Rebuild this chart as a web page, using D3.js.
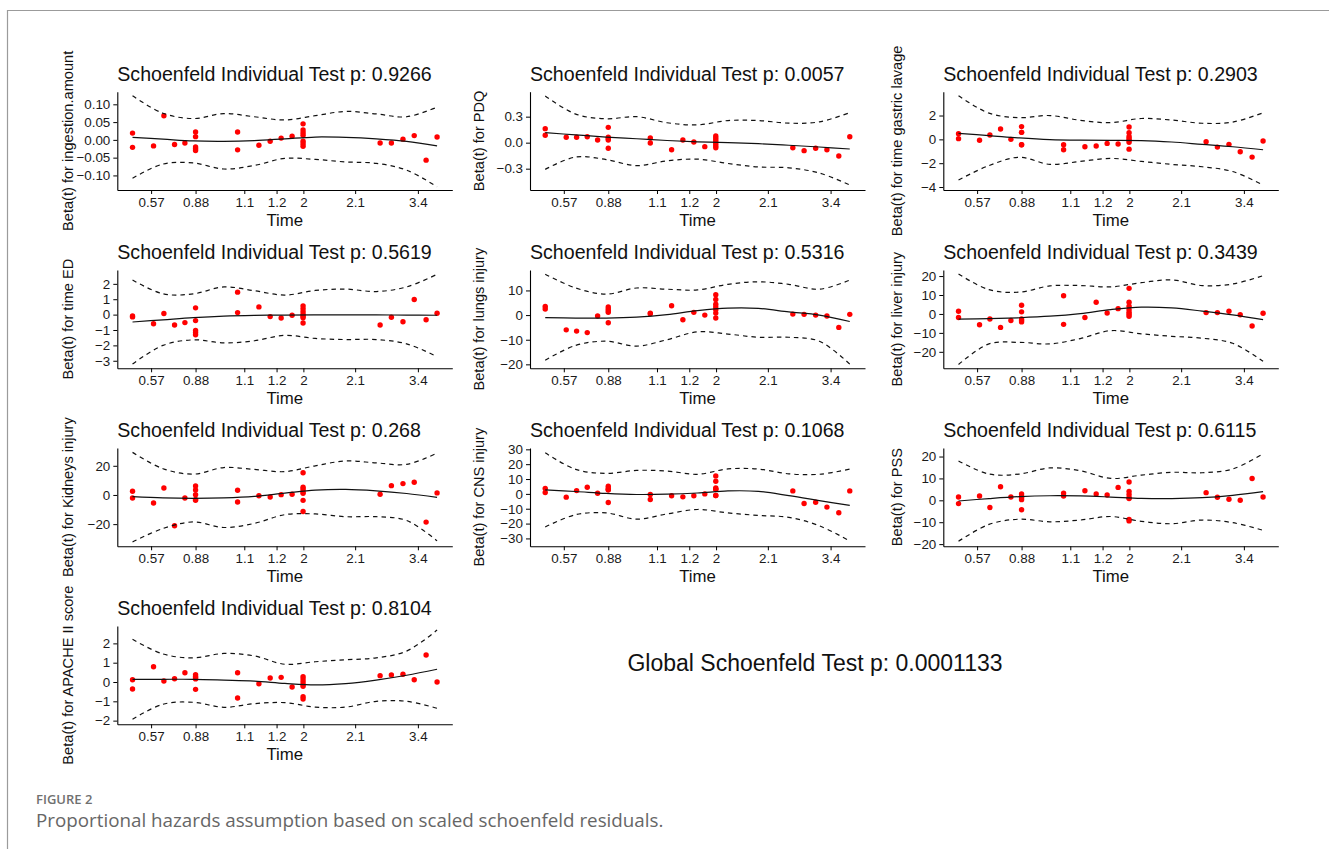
<!DOCTYPE html>
<html><head><meta charset="utf-8">
<script src="https://cdn.jsdelivr.net/npm/d3@7"></script>
<style>
html,body{margin:0;padding:0;background:#fff;}
svg{display:block;}
</style></head>
<body>
<script>
// ---------- DATA ----------
// transformed event time (KM scale, 0..1) of each of the 30 events
const eventTime = [0,0,0.069,0.103,0.138,0.172,0.207,0.207,0.207,0.207,0.207,0.345,0.345,0.415,0.452,0.488,0.524,0.560,0.560,0.560,0.560,0.560,0.560,0.560,0.813,0.850,0.888,0.925,0.964,1.0];
const xTickPos = [0.061,0.207,0.367,0.473,0.561,0.731,0.937];
const xTickLabels = ["0.57","0.88","1.1","1.2","2","2.1","3.4"];
const gridTime = [0,0.1,0.2,0.3,0.4,0.5,0.6,0.7,0.8,0.9,1.0];

const variables = ["ingestion.amount","PDQ","time gastric lavage","time ED","lungs injury","liver injury","Kidneys injury","CNS injury","PSS","APACHE II score"];
const pValues = ["0.9266","0.0057","0.2903","0.5619","0.5316","0.3439","0.268","0.1068","0.6115","0.8104"];
const globalP = "0.0001133";

const yTicks = [
  [-0.10,-0.05,0,0.05,0.10],
  [-0.3,0,0.3],
  [-4,-2,0,2],
  [-3,-2,-1,0,1,2],
  [-20,-10,0,10],
  [-20,-10,0,10,20],
  [-20,0,20],
  [-30,-20,-10,0,10,20,30],
  [-20,-10,0,10,20],
  [-2,-1,0,1,2]
];
const yTickDecimals = [2,1,0,0,0,0,0,0,0,0];
const yDomains = [
  [-0.141,0.1355],[-0.546,0.588],[-4.25,4.0],[-3.49,2.9],[-21.6,18.3],
  [-28.7,23.2],[-35.2,32.2],[-35.3,30.9],[-21,23.9],[-2.19,2.9]
];

// scaled Schoenfeld residuals, one per event, per variable
const resIngestion = [0.019,-0.021,-0.017,0.068,-0.013,-0.009,0.022,0.009,-0.020,-0.025,-0.030,0.022,-0.028,-0.015,-0.004,0.005,0.010,0.045,0.028,0.020,0.013,-0.004,-0.011,-0.018,-0.009,-0.009,0.002,0.012,-0.057,0.008];
const resPDQ = [0.162,0.085,0.062,0.062,0.069,0.031,0.177,0.062,0.046,0.031,-0.065,0.054,-0.004,-0.081,0.031,0.008,-0.046,0.077,0.054,0.031,0.008,-0.015,-0.038,-0.058,-0.058,-0.092,-0.065,-0.081,-0.154,0.069];
const resGastric = [0.48,0.06,-0.08,0.37,0.87,0.0,1.07,0.59,0.59,-0.45,-0.45,-0.45,-0.87,-0.62,-0.56,-0.34,-0.39,1.04,0.56,0.25,0.08,-0.08,-0.25,-0.82,-0.2,-0.65,-0.42,-1.04,-1.49,-0.14];
const resED = [-0.09,-0.15,-0.59,0.07,-0.68,-0.52,0.44,-0.39,-1.03,-1.16,-1.31,1.46,0.13,0.5,-0.13,-0.22,-0.04,0.57,0.39,0.2,0.02,-0.1,-0.2,-0.55,-0.68,-0.17,-0.46,0.98,-0.33,0.09];
const resLungs = [3.5,2.5,-6.0,-6.5,-7.1,-0.4,3.3,2.5,1.8,1.1,-3.1,0.8,0.5,3.8,-1.9,1.1,0.0,8.3,6.3,4.4,3.3,2.2,0.8,-1.2,0.4,0.3,0.0,-0.4,-5.0,0.3];
const resLiver = [1.4,-1.9,-5.7,-2.7,-7.1,-3.5,4.6,1.1,-2.7,-3.5,-4.2,9.6,-5.5,-1.9,6.2,0.5,2.8,13.5,6.2,4.1,2.3,0.9,-0.2,-1.2,0.7,0.7,1.4,-0.4,-6.4,0.4];
const resKidneys = [2.5,-2.1,-5.5,4.8,-21.1,-2.1,6.2,3.4,0.2,-3.0,-3.7,3.2,-4.8,-0.5,-1.4,0.2,0.5,15.2,5.3,3.9,2.1,1.1,-3.7,-11.3,0.5,6.4,7.8,8.7,-18.6,1.4];
const resCNS = [3.6,0.9,-2.2,2.2,4.5,0.4,5.1,3.8,2.7,2.7,-5.8,-0.4,-3.8,-1.3,-2.0,-1.3,0.0,12.1,8.5,4.0,3.1,3.1,-1.1,-1.1,2.0,-6.5,-5.6,-8.9,-12.7,2.0];
const resPSS = [1.5,-1.5,2.0,-3.3,6.2,1.5,2.9,1.8,1.2,0.3,-4.3,3.3,2.0,4.4,2.9,2.4,5.9,8.4,4.1,2.7,1.2,0.8,-8.7,-9.4,3.5,1.4,0.5,0.0,10.0,1.5];
const resAPACHE = [0.12,-0.36,0.79,0.05,0.17,0.48,0.38,0.28,0.22,0.16,-0.38,0.48,-0.83,-0.09,0.21,0.24,-0.26,0.28,0.16,0.02,-0.12,-0.22,-0.76,-0.88,0.33,0.36,0.40,0.12,1.40,0.0];

// smoothed beta(t) fit and its confidence bounds at gridTime
const fitIngestion = [0.007,0.002,-0.003,-0.004,-0.002,0.003,0.008,0.007,0.003,-0.004,-0.017];
const upIngestion = [0.124,0.075,0.060,0.074,0.065,0.056,0.068,0.080,0.073,0.065,0.092];
const loIngestion = [-0.108,-0.068,-0.065,-0.082,-0.072,-0.052,-0.055,-0.062,-0.066,-0.085,-0.132];
const fitPDQ = [0.115,0.09,0.065,0.045,0.025,0.01,0.0,-0.012,-0.03,-0.05,-0.073];
const upPDQ = [0.538,0.33,0.275,0.30,0.23,0.205,0.255,0.255,0.225,0.24,0.346];
const loPDQ = [-0.308,-0.165,-0.195,-0.265,-0.21,-0.19,-0.24,-0.28,-0.29,-0.35,-0.488];
const fitGastric = [0.50,0.32,0.12,-0.02,-0.07,-0.08,-0.10,-0.22,-0.42,-0.62,-0.87];
const upGastric = [3.66,2.2,1.82,2.0,1.6,1.4,1.75,1.62,1.35,1.45,2.23];
const loGastric = [-3.41,-2.2,-1.5,-2.1,-1.85,-1.6,-1.85,-2.1,-2.3,-2.7,-3.83];
const fitED = [-0.48,-0.34,-0.2,-0.1,-0.05,-0.03,-0.02,-0.02,-0.02,-0.03,-0.04];
const upED = [2.25,1.35,1.35,1.8,1.55,1.27,1.57,1.66,1.5,1.8,2.62];
const loED = [-3.21,-2.0,-1.64,-1.84,-1.7,-1.35,-1.55,-1.62,-1.62,-1.9,-2.73];
const fitLungs = [-1.0,-1.2,-1.2,-0.8,0.2,1.8,2.8,2.7,1.3,0.0,-2.6];
const upLungs = [16.6,11.0,8.5,11.0,10.5,10.2,12.5,13.5,12.5,10.5,14.2];
const loLungs = [-18.3,-12.3,-10.6,-12.6,-10.0,-6.8,-7.7,-9.0,-9.0,-10.6,-19.9];
const fitLiver = [-2.7,-2.5,-2.0,-1.2,0.2,2.3,3.6,3.2,1.5,-0.5,-3.0];
const upLiver = [21.1,12.8,11.5,14.8,15.0,14.3,16.5,18.0,15.0,15.8,20.2];
const loLiver = [-26.7,-15.8,-15.0,-15.8,-13.0,-8.8,-10.5,-11.8,-12.8,-15.5,-25.0];
const fitKidneys = [-1.1,-2.0,-2.3,-2.0,-1.0,1.2,3.3,3.8,2.8,1.0,-1.6];
const upKidneys = [29.2,18.0,14.3,18.8,17.5,16.0,20.0,23.3,22.0,21.0,28.7];
const loKidneys = [-32.2,-23.0,-18.5,-22.3,-19.5,-13.5,-13.0,-14.9,-14.9,-17.5,-31.5];
const fitCNS = [2.7,1.6,0.3,-0.4,-0.2,0.6,2.0,1.7,-1.2,-4.5,-7.8];
const upCNS = [27.7,16.5,13.8,15.8,15.4,13.2,16.8,16.7,13.5,13.2,16.7];
const loCNS = [-22.3,-14.0,-12.8,-17.0,-13.5,-10.5,-12.8,-14.5,-15.8,-21.5,-31.7];
const fitPSS = [-0.3,0.8,1.7,2.1,2.0,1.5,0.9,0.8,1.2,2.3,4.0];
const upPSS = [18.0,12.0,12.0,14.8,13.5,10.0,11.5,12.8,12.6,14.3,21.3];
const loPSS = [-18.7,-11.0,-8.6,-9.8,-9.0,-7.4,-9.6,-10.7,-9.0,-10.2,-13.7];
const fitAPACHE = [0.14,0.14,0.14,0.1,0.05,-0.07,-0.15,-0.08,0.1,0.35,0.66];
const upAPACHE = [2.21,1.45,1.25,1.48,1.35,0.92,1.05,1.15,1.25,1.6,2.69];
const loAPACHE = [-1.93,-1.15,-1.05,-1.31,-1.12,-1.07,-1.3,-1.3,-1.0,-1.0,-1.36];

const residuals = [resIngestion,resPDQ,resGastric,resED,resLungs,resLiver,resKidneys,resCNS,resPSS,resAPACHE];
const fits = [fitIngestion,fitPDQ,fitGastric,fitED,fitLungs,fitLiver,fitKidneys,fitCNS,fitPSS,fitAPACHE];
const uppers = [upIngestion,upPDQ,upGastric,upED,upLungs,upLiver,upKidneys,upCNS,upPSS,upAPACHE];
const lowers = [loIngestion,loPDQ,loGastric,loED,loLungs,loLiver,loKidneys,loCNS,loPSS,loAPACHE];

// ---------- LAYOUT ----------
const W = 1329, Hpage = 849;
const colLeft = [117.3, 530, 943.3];
const rowTop = [91.7, 270, 448, 626];
const PW = 335, PH = 98.3;
const yLabelOffset = [-49.3, -51, -46.8];
const FONT = "'Liberation Sans', Arial, Helvetica, sans-serif";
const minus = s => s.replace("-", "\u2212");

const svg = d3.select("body").append("svg").attr("width", W).attr("height", Hpage)
  .style("font-family", FONT);
svg.append("rect").attr("width", W).attr("height", Hpage).attr("fill", "#fff");

// figure frame
svg.append("path").attr("d", `M7.5,${Hpage} V10.5 H${W}`)
  .attr("fill", "none").attr("stroke", "#9b9b9b").attr("stroke-width", 1.2);

variables.forEach((v, i) => {
  const r = Math.floor(i / 3), c = i % 3;
  const g = svg.append("g").attr("transform", `translate(${colLeft[c]},${rowTop[r]})`);
  const x = d3.scaleLinear().domain([-0.05, 1.05]).range([0, PW]);
  const y = d3.scaleLinear().domain(yDomains[i]).range([PH, 0]);

  // axes
  const xa = g.append("g").attr("transform", `translate(0,${PH})`)
    .call(d3.axisBottom(x).tickValues(xTickPos).tickFormat((d, k) => xTickLabels[k])
      .tickSize(4).tickSizeOuter(0).tickPadding(3));
  const dec = yTickDecimals[i];
  const ya = g.append("g")
    .call(d3.axisLeft(y).tickValues(yTicks[i]).tickFormat(d => minus(d.toFixed(dec)))
      .tickSize(4).tickSizeOuter(0).tickPadding(3));
  [xa, ya].forEach(a => {
    a.attr("font-family", FONT).attr("font-size", 13.4);
    a.selectAll("text").attr("fill", "#1a1a1a");
    a.selectAll("line").attr("stroke", "#000").attr("stroke-width", 1);
    a.select(".domain").attr("stroke", "#000").attr("stroke-width", 1.1);
  });

  // points
  g.append("g").selectAll("circle").data(residuals[i]).join("circle")
    .attr("cx", (d, k) => x(eventTime[k])).attr("cy", d => y(d))
    .attr("r", 2.7).attr("fill", "#ff0000");

  // smooth + CI
  const line = d3.line().x((d, k) => x(gridTime[k])).y(d => y(d))
    .curve(d3.curveCatmullRom.alpha(0.5));
  g.append("path").attr("d", line(fits[i])).attr("fill", "none")
    .attr("stroke", "#111").attr("stroke-width", 1.2);
  [uppers[i], lowers[i]].forEach(arr => {
    g.append("path").attr("d", line(arr)).attr("fill", "none")
      .attr("stroke", "#111").attr("stroke-width", 1.2).attr("stroke-dasharray", "4.5,4");
  });

  // titles
  g.append("text").attr("x", 0).attr("y", -11).attr("font-size", 19.6).attr("fill", "#111")
    .text(`Schoenfeld Individual Test p: ${pValues[i]}`);
  g.append("text").attr("x", PW / 2).attr("y", PH + 35.7).attr("text-anchor", "middle")
    .attr("font-size", 16.8).attr("fill", "#111").text("Time");
  g.append("text").attr("transform", `translate(${yLabelOffset[c]},${PH / 2}) rotate(-90)`)
    .attr("text-anchor", "middle").attr("dominant-baseline", "central")
    .attr("font-size", 14.6).attr("fill", "#111").text(`Beta(t) for ${v}`);
});

// global test
svg.append("text").attr("x", 815).attr("y", 671).attr("text-anchor", "middle")
  .attr("font-size", 23).attr("fill", "#111")
  .text(`Global Schoenfeld Test p: ${globalP}`);

// caption
svg.append("text").attr("x", 36).attr("y", 804)
  .attr("font-family", "'Open Sans', 'Noto Sans', sans-serif").attr("font-weight", 600)
  .attr("font-size", 13).attr("fill", "#707070").text("FIGURE 2");
svg.append("text").attr("x", 36).attr("y", 827)
  .attr("font-family", "'Open Sans', 'Noto Sans', sans-serif")
  .attr("font-size", 18.8).attr("fill", "#666").text("Proportional hazards assumption based on scaled schoenfeld residuals.");
</script>
</body></html>
